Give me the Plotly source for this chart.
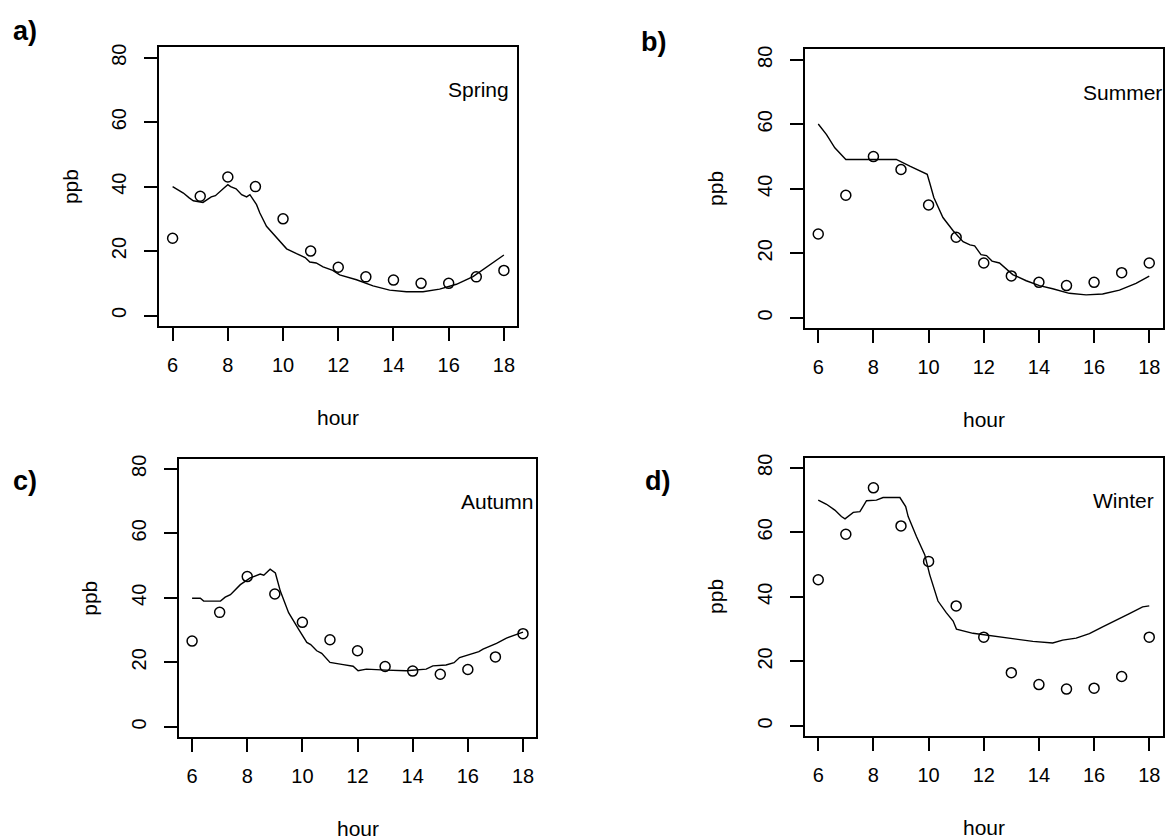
import plotly.graph_objects as go

W, H = 1165, 839

hours = [6, 7, 8, 9, 10, 11, 12, 13, 14, 15, 16, 17, 18]

# Observed (circles)
obs_spring = [24, 37, 43, 40, 30, 20, 15, 12, 11, 10, 10, 12, 14]
obs_summer = [26, 38, 50, 46, 35, 25, 17, 13, 11, 10, 11, 14, 17]
obs_autumn = [26.6, 35.5, 46.6, 41.2, 32.4, 27, 23.6, 18.7, 17.3, 16.3, 17.8, 21.7, 28.9]
obs_winter = [45.3, 59.4, 73.8, 62, 51, 37.2, 27.5, 16.5, 12.8, 11.4, 11.7, 15.3, 27.5]

# Modelled (lines)
mod_spring_h = [6.0, 6.2, 6.39, 6.6, 6.75, 7.1, 7.4, 7.55, 7.7, 7.85, 8.0, 8.1, 8.3, 8.5, 8.68,
                8.8, 9.04, 9.16, 9.4, 9.76, 10.13, 10.49, 10.8, 10.97, 11.2, 11.45, 11.8,
                12.05, 12.66, 13.26, 13.86, 14.47, 15.07, 15.67, 16.28, 16.88, 17.48, 18.0]
mod_spring_v = [40, 39, 38, 36.5, 35.6, 35.1, 36.8, 37.2, 38.5, 39.5, 40.6, 40.0, 39.3, 37.5,
                36.8, 37.5, 34.4, 31.8, 27.7, 24.1, 20.7, 19.2, 18.0, 16.6, 16.3, 15.1, 14.0,
                12.6, 11.1, 9.2, 7.9, 7.4, 7.4, 8.2, 9.7, 12.1, 15.6, 18.8]

mod_summer_h = [6.0, 6.3, 6.6, 7.0, 7.63, 8.83, 9.32, 9.8, 9.95, 10.04, 10.19, 10.52, 10.89,
                11.25, 11.5, 11.67, 11.9, 12.1, 12.3, 12.57, 13.05, 13.54, 14.02, 14.5, 15.1,
                15.71, 16.31, 16.92, 17.3, 17.52, 18.0]
mod_summer_v = [60.1, 56.8, 52.7, 49.1, 49.1, 49.1, 47, 45, 44.5, 41.9, 37.3, 31.1, 27,
                23.6, 22.6, 22.3, 19.6, 19.3, 17.6, 17, 13.4, 11.5, 10, 9, 7.6,
                7.1, 7.4, 8.6, 9.8, 10.7, 12.9]

mod_autumn_h = [6.0, 6.3, 6.42, 7.03, 7.2, 7.39, 7.75, 8.11, 8.47, 8.6, 8.83, 9.02, 9.2, 9.5,
                9.86, 10.16, 10.3, 10.52, 10.7, 11.0, 11.48, 11.84, 12.02, 12.32, 13.04,
                13.76, 14.49, 14.73, 15.21, 15.5, 15.7, 16.19, 16.4, 16.55, 17.04, 17.4, 18.0]
mod_autumn_v = [39.9, 39.9, 39, 39, 40.2, 41, 44.1, 46.2, 47.4, 47.0, 48.9, 47.7, 42.1, 35.4,
                30.3, 26.2, 25.5, 23.6, 22.8, 20, 19.3, 18.8, 17.4, 17.9, 17.6,
                17.4, 17.9, 18.9, 19.2, 19.9, 21.5, 22.8, 23.3, 24.1, 25.9, 27.5, 29.4]

mod_winter_h = [6.0, 6.3, 6.6, 6.84, 6.97, 7.09, 7.27, 7.51, 7.75, 8.11, 8.35, 8.96, 9.17, 9.26,
                9.56, 9.86, 10.04, 10.34, 10.64, 10.89, 11.01, 11.61, 12.33, 13.06, 13.78,
                14.5, 14.86, 15.35, 15.83, 16.31, 16.8, 17.28, 17.76, 18.0]
mod_winter_v = [70, 68.7, 66.9, 64.9, 64.2, 64.9, 66.2, 66.4, 69.8, 70, 70.8, 70.8, 68, 64.9,
                58.7, 53.1, 46.9, 38.7, 35.1, 32.5, 30, 28.7, 27.9, 27.2, 26.2,
                25.7, 26.6, 27.2, 28.6, 30.7, 32.9, 34.8, 36.9, 37.2]

x_ticks = [6, 8, 10, 12, 14, 16, 18]
y_ticks = [0, 20, 40, 60, 80]
seasons = ["Spring", "Summer", "Autumn", "Winter"]
panel_tags = ["a)", "b)", "c)", "d)"]
x_title = "hour"
y_title = "ppb"

# panel boxes in pixels: (left, right, top, bottom)
boxes = [
    (159.5, 517.6, 43.6, 323.4),
    (805.7, 1163.5, 45.7, 325.7),
    (179.0, 536.7, 456.7, 736.7),
    (805.7, 1163.5, 455.7, 735.7),
]
tag_pos = [(25.5, 27), (654, 38.5), (25.5, 479), (658.5, 479)]
season_x = [15.9, 15.53, 15.67, 15.9]

obs_all = [obs_spring, obs_summer, obs_autumn, obs_winter]
mod_all = [(mod_spring_h, mod_spring_v), (mod_summer_h, mod_summer_v),
           (mod_autumn_h, mod_autumn_v), (mod_winter_h, mod_winter_v)]

FONT = "Liberation Sans, Arial, sans-serif"

fig = go.Figure()
layout = dict(
    width=W, height=H, margin=dict(l=0, r=0, t=0, b=0),
    paper_bgcolor="white", plot_bgcolor="white", showlegend=False,
    font=dict(family=FONT, size=20, color="black"),
)
annotations = []

for i in range(4):
    n = "" if i == 0 else str(i + 1)
    xa, ya = "x" + n, "y" + n
    l, r, t, b = boxes[i]
    hx, hv = mod_all[i]
    fig.add_trace(go.Scatter(x=hx, y=hv, mode="lines", xaxis=xa, yaxis=ya,
                             line=dict(color="black", width=1.4)))
    fig.add_trace(go.Scatter(x=hours, y=obs_all[i], mode="markers", xaxis=xa, yaxis=ya,
                             marker=dict(symbol="circle-open", size=10, color="black",
                                         line=dict(width=1.5, color="black"))))
    layout["xaxis" + n] = dict(
        domain=[l / W, r / W], anchor=ya, range=[5.52, 18.48],
        tickvals=x_ticks, ticktext=[str(v) for v in x_ticks],
        showline=True, mirror=True, linecolor="black", linewidth=2,
        ticks="outside", ticklen=13, tickwidth=1.5, tickcolor="black",
        showgrid=False, zeroline=False, ticklabelstandoff=7,
        tickfont=dict(family=FONT, size=20, color="black"),
    )
    layout["yaxis" + n] = dict(
        domain=[1 - b / H, 1 - t / H], anchor=xa, range=[-3.2, 83.2],
        tickvals=y_ticks, ticktext=[str(v) for v in y_ticks], tickangle=-90,
        showline=True, mirror=True, linecolor="black", linewidth=2,
        ticks="outside", ticklen=13, tickwidth=1.5, tickcolor="black",
        showgrid=False, zeroline=False, ticklabelstandoff=10,
        tickfont=dict(family=FONT, size=20, color="black"),
    )
    cx = (l + r) / 2
    cy = (t + b) / 2
    annotations.append(dict(text=x_title, x=cx / W, y=1 - (b + 92) / H, xref="paper", yref="paper",
                            showarrow=False, xanchor="center", yanchor="middle",
                            font=dict(family=FONT, size=21, color="black")))
    annotations.append(dict(text=y_title, x=(l - 89) / W, y=1 - cy / H, xref="paper", yref="paper",
                            showarrow=False, xanchor="center", yanchor="middle", textangle=-90,
                            font=dict(family=FONT, size=21, color="black")))
    annotations.append(dict(text=seasons[i], x=season_x[i], y=70, xref=xa, yref=ya,
                            showarrow=False, xanchor="left", yanchor="middle",
                            font=dict(family=FONT, size=21, color="black")))
    tx, ty = tag_pos[i]
    annotations.append(dict(text="<b>" + panel_tags[i] + "</b>", x=tx / W, y=1 - ty / H,
                            xref="paper", yref="paper", showarrow=False,
                            xanchor="center", yanchor="middle",
                            font=dict(family=FONT, size=27, color="black")))

layout["annotations"] = annotations
fig.update_layout(**layout)
fig.write_html("out.html", config={"displayModeBar": False},
               post_script="document.body.style.margin='0';document.body.style.overflow='hidden';")
